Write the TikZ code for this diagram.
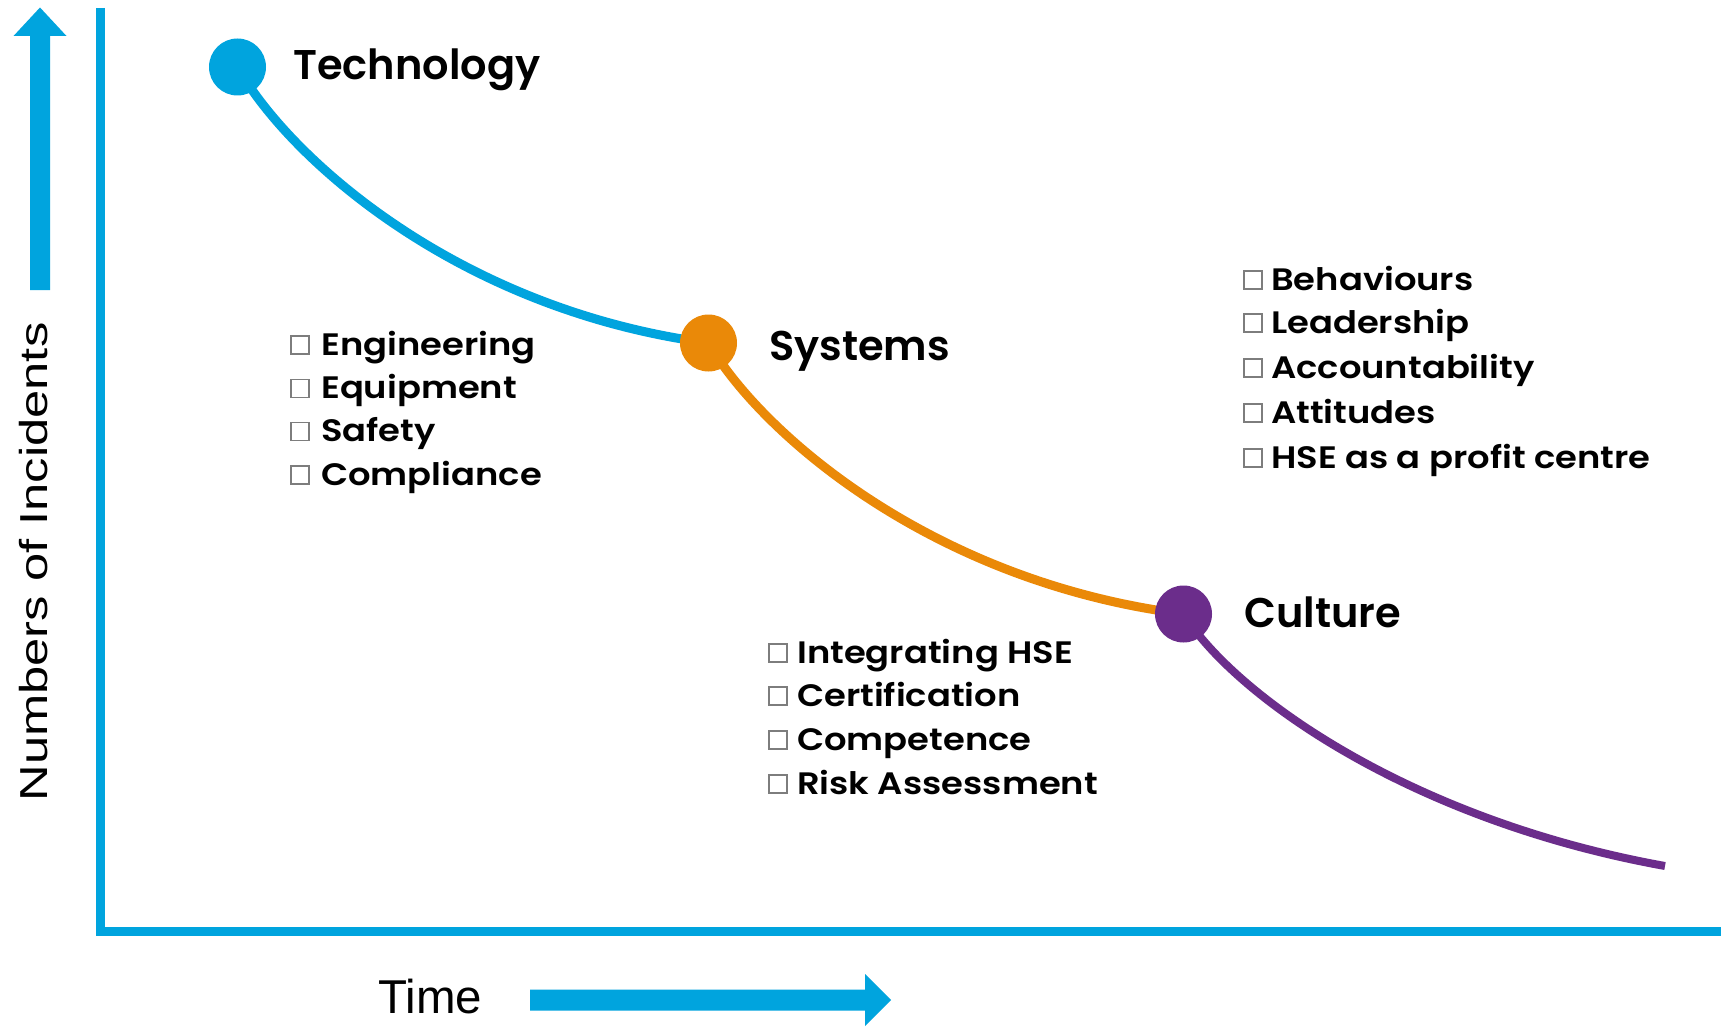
\documentclass[tikz,border=0pt]{standalone}
\usepackage{fontspec}
\newfontfamily\labfont{Poppins SemiBold}
\newfontfamily\itemfont{Poppins SemiBold}[FakeStretch=1.14]
\newfontfamily\axfont{Liberation Sans}
\definecolor{cblue}{RGB}{0,164,222}
\definecolor{corange}{RGB}{234,137,8}
\definecolor{cpurple}{RGB}{107,45,139}
\definecolor{cbox}{RGB}{125,125,125}
\begin{document}
\begin{tikzpicture}[x=1pt,y=-1pt,
  dot/.style={circle,inner sep=0pt,minimum size=57pt},
  title/.style={anchor=base west,inner sep=0pt,font=\labfont\fontsize{41.5}{41.5}\selectfont},
  item/.style={anchor=base west,inner sep=0pt,font=\itemfont\fontsize{31}{31}\selectfont},
  cbx/.style={draw=cbox,line width=1.6pt,minimum size=18pt,inner sep=0pt},
  curve/.style={line width=9pt},
  axisline/.style={draw=cblue,line width=9pt}]
\useasboundingbox (0,0) rectangle (1727,1027);
\fill[white] (0,0) rectangle (1727,1027);

% axes
\coordinate (ytop) at (100.5,8);
\coordinate (origin) at (100.5,931);
\coordinate (xend) at (1721,931);
\draw[axisline] (ytop) -- (origin) -- (xend);

% arrows
\fill[cblue] (30,290) -- (30,36) -- (13.5,36) -- (40,7.5) -- (66.5,36) -- (50,36) -- (50,290) -- cycle;
\fill[cblue] (530,989.5) -- (865,989.5) -- (865,974) -- (891,1000) -- (865,1026) -- (865,1010.5) -- (530,1010.5) -- cycle;

% axis labels
\node[font=\axfont\fontsize{39}{39}\selectfont,rotate=90,inner sep=0pt,anchor=base] (ylab) at (47,562) {\scalebox{1.3}[1]{Numbers of Incidents}};
\node[font=\axfont\fontsize{47.5}{47.5}\selectfont,anchor=base west,inner sep=0pt] (xlab) at (378,1013) {Time};

% stage points
\node[dot] (tech) at (237.5,67) {};
\node[dot] (sys) at (708.5,343) {};
\node[dot] (cult) at (1183.5,614) {};
\coordinate (cend) at (1665,866);

% curves
\draw[curve,cblue] (tech.center) .. controls +(52.5,93) and +(-248.5,-33) .. (sys.center);
\draw[curve,corange] (sys.center) .. controls +(53,91) and +(-251,-32) .. (cult.center);
\draw[curve,cpurple,line width=8pt] (cult.center) .. controls +(54,85) and +(-250,-45) .. (cend);

\fill[cblue] (tech) circle (28.5);
\fill[corange] (sys) circle (28.5);
\fill[cpurple] (cult) circle (28.5);

% titles
\node[title] (ttech) at (293,80) {Technology};
\node[title] (tsys) at (769,360) {Systems};
\node[title] (tcult) at (1244,627) {Culture};

% lists
\foreach \t/\y [count=\i] in {Engineering/355,Equipment/398.5,Safety/441.5,Compliance/485}{
  \node[cbx] (la\i) at (300,\y-10) {};
  \node[item] (lt\i) at (321,\y) {\t};
}
\foreach \t/\y [count=\i] in {Integrating HSE/663,Certification/706,Competence/750,Risk Assessment/794}{
  \node[cbx] (ma\i) at (778,\y-10) {};
  \node[item] (mt\i) at (797,\y) {\t};
}
\foreach \t/\y [count=\i] in {Behaviours/290,Leadership/333,Accountability/378,Attitudes/423,HSE as a profit centre/468}{
  \node[cbx] (ra\i) at (1253,\y-10) {};
  \node[item] (rt\i) at (1271,\y) {\t};
}
\end{tikzpicture}
\end{document}
